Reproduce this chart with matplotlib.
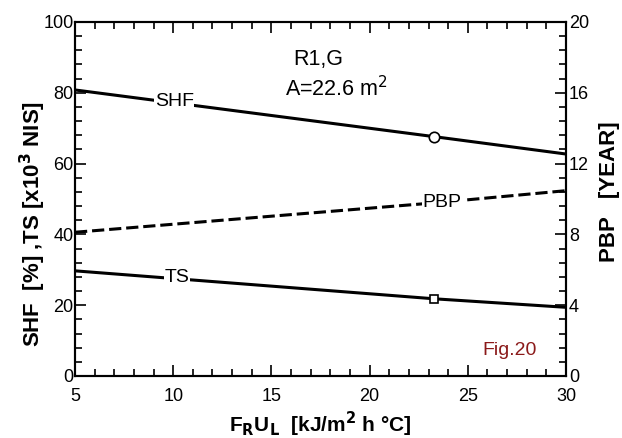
import matplotlib
matplotlib.use("Agg")
import matplotlib.pyplot as plt
from matplotlib.ticker import MultipleLocator

plt.rcParams["font.family"] = ["Liberation Sans", "DejaVu Sans"]

# data (endpoints + marked design point)
fr_ul = [5, 23.3, 30]
shf = [80.8, 67.6, 62.7]
ts = [29.7, 21.8, 19.4]
pbp = [8.12, 9.78, 10.47]

fig = plt.figure(figsize=(6.22, 4.38), dpi=100)
ax = fig.add_axes([0.1206, 0.1416, 0.7894, 0.8082])
ax2 = ax.twinx()

lw = 2.2
ax.plot(fr_ul, shf, color="black", lw=lw, marker="o", markevery=[1],
        ms=7.5, mfc="white", mec="black", mew=1.2, zorder=3)
ax.plot(fr_ul, ts, color="black", lw=lw, marker="s", markevery=[1],
        ms=5.5, mfc="white", mec="black", mew=1.2, zorder=3)
ax2.plot(fr_ul, pbp, color="black", lw=lw, ls=(0, (4, 1.6)), zorder=3)

box = dict(facecolor="white", edgecolor="none", pad=0.5)
ax.text(10.05, 77.4, "SHF", fontsize=14, ha="center", va="center", bbox=box, zorder=4)
ax.text(10.2, 27.7, "TS", fontsize=14, ha="center", va="center", bbox=box, zorder=4)
ax2.text(23.7, 9.8, "PBP", fontsize=14, ha="center", va="center", bbox=box, zorder=4)

ax.text(17.4, 89.5, "R1,G", fontsize=15.5, ha="center", va="center")
ax.text(18.3, 81.2, "A=22.6 m$^2$", fontsize=15.5, ha="center", va="center")
ax.text(27.15, 7.2, "Fig.20", fontsize=14, ha="center", va="center", color="#8B1A1A")

ax.set_xlim(5, 30)
ax.set_ylim(0, 100)
ax2.set_ylim(0, 20)

ax.xaxis.set_major_locator(MultipleLocator(5))
ax.xaxis.set_minor_locator(MultipleLocator(1))
ax.yaxis.set_major_locator(MultipleLocator(20))
ax.yaxis.set_minor_locator(MultipleLocator(4))
ax2.yaxis.set_major_locator(MultipleLocator(4))
ax2.yaxis.set_minor_locator(MultipleLocator(0.8))

ax.tick_params(which="both", direction="in", top=True, width=1.2, labelsize=13)
ax.tick_params(which="major", length=8)
ax.tick_params(which="minor", length=5)
ax.tick_params(axis="x", pad=9)
ax.tick_params(axis="y", pad=1)
ax2.tick_params(which="both", direction="in", width=1.2, labelsize=13, pad=2)
ax2.tick_params(which="major", length=8)
ax2.tick_params(which="minor", length=5)

for a in (ax, ax2):
    for s in a.spines.values():
        s.set_linewidth(1.5)

ax.set_xlabel("F$_\\mathbf{R}$U$_\\mathbf{L}$  [kJ/m$^\\mathbf{2}$ h \u00b0C]",
              fontsize=15, fontweight="bold", labelpad=3)
ax.set_ylabel("SHF  [%] ,TS [x10$^\\mathbf{3}$ NIS]", fontsize=16, fontweight="bold")
ax.yaxis.set_label_coords(-0.055, 0.43)
ax2.set_ylabel("PBP   [YEAR]", fontsize=16, fontweight="bold", labelpad=4)
ax2.yaxis.set_label_coords(1.068, 0.52)

fig.savefig("out.png", dpi=100)
